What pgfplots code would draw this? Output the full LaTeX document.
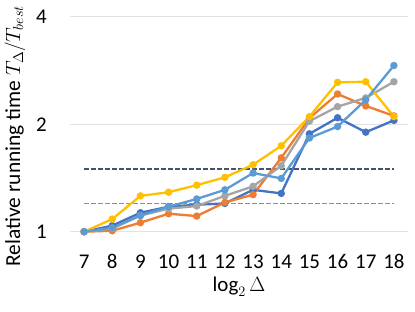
\documentclass[border=0pt]{standalone}
\usepackage{fontspec}
\setmainfont{Carlito}
\usepackage{pgfplots}
\pgfplotsset{compat=1.18}
\usetikzlibrary{calc}
\definecolor{cA}{HTML}{4472C4}
\definecolor{cB}{HTML}{ED7D31}
\definecolor{cC}{HTML}{A5A5A5}
\definecolor{cD}{HTML}{FFC000}
\definecolor{cE}{HTML}{5B9BD5}
\definecolor{dkline}{HTML}{44546A}
\definecolor{ltline}{HTML}{7F93AE}
\definecolor{gridgray}{HTML}{E3E3E3}
\begin{document}
\begin{tikzpicture}
\begin{axis}[name=a, scale only axis, width=338bp, height=215bp,
  xmin=6.5, xmax=18.5, ymode=log, log basis y=2, ymin=1, ymax=4,
  ytick={1,2,4}, yticklabels={1,2,4}, xtick={7,...,18},
  xticklabels={7,8,9,10,11,12,13,14,15,16,17,18},
  axis line style={draw=none}, tick style={draw=none},
  ymajorgrids, grid style={color=gridgray, line width=1bp},
  tick label style={font=\fontsize{21}{25}\selectfont},
  /pgf/number format/assume math mode=true,
  xticklabel style={anchor=base, yshift=-36.3bp},
  yticklabel style={anchor=east, inner sep=0pt, xshift=-23bp},
  xlabel={$\log_2\Delta$},
  ylabel={Relative running time $T_\Delta/T_{best}$},
  xlabel style={at={(axis description cs:0.5,-0.256)}, anchor=center, font=\fontsize{21}{25}\selectfont},
  ylabel style={at={(axis description cs:-0.163,0.445)}, anchor=center, rotate=0, font=\fontsize{21.5}{25}\selectfont},
  clip=false,
  every axis plot/.append style={line width=2.3bp, mark=*, mark size=2.5bp, mark options={solid}},
]
\addplot[ltline, dash pattern=on 4.5bp off 2.5bp, mark=none, line width=1.5bp] coordinates {(7,1.2) (18,1.2)};
\addplot[dkline, dash pattern=on 4.5bp off 2.5bp, mark=none, line width=1.8bp] coordinates {(7,1.5) (18,1.5)};
\addplot[cA] coordinates {(7,1) (8,1.04) (9,1.13) (10,1.175) (11,1.19) (12,1.20) (13,1.31) (14,1.28) (15,1.88) (16,2.085) (17,1.90) (18,2.05)};
\addplot[cB] coordinates {(7,1) (8,1.006) (9,1.06) (10,1.123) (11,1.106) (12,1.208) (13,1.27) (14,1.61) (15,2.08) (16,2.43) (17,2.25) (18,2.11)};
\addplot[cC] coordinates {(7,1) (8,1.02) (9,1.11) (10,1.16) (11,1.18) (12,1.26) (13,1.34) (14,1.53) (15,2.04) (16,2.24) (17,2.37) (18,2.63)};
\addplot[cD] coordinates {(7,1) (8,1.085) (9,1.26) (10,1.29) (11,1.35) (12,1.42) (13,1.54) (14,1.74) (15,2.10) (16,2.62) (17,2.63) (18,2.10)};
\addplot[cE] coordinates {(7,1) (8,1.026) (9,1.11) (10,1.175) (11,1.235) (12,1.31) (13,1.46) (14,1.41) (15,1.83) (16,1.97) (17,2.34) (18,2.92)};
\end{axis}
\pgfresetboundingbox
\path ($(a.south west)+(-70bp,-80.3bp)$) rectangle ($(a.north east)+(7bp,16.7bp)$);
\end{tikzpicture}
\end{document}
